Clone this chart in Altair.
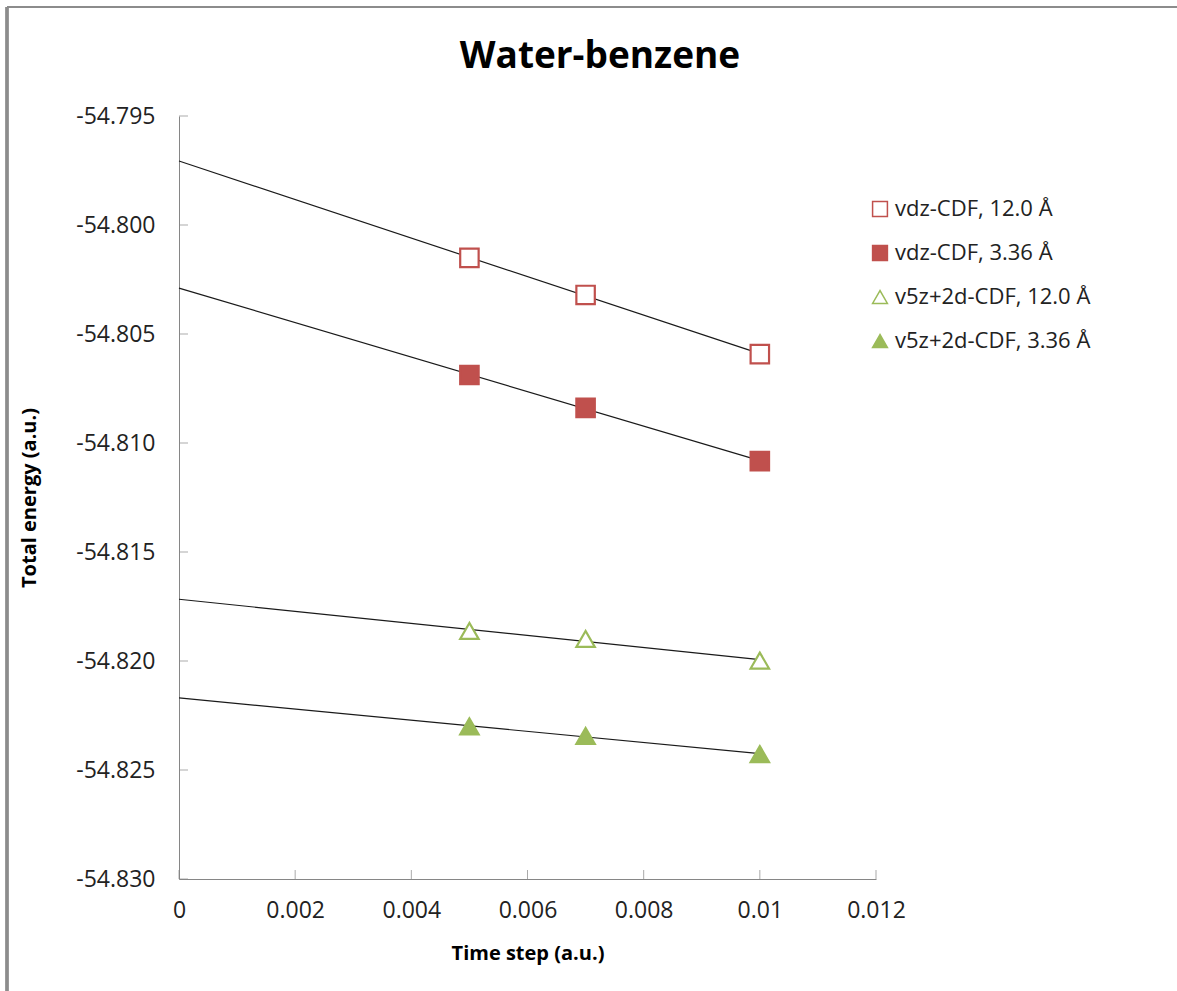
import altair as alt
import pandas as pd

# Time steps (a.u.) at which the total energy was computed
time_steps = [0.005, 0.007, 0.01]

# Total energies (a.u.) for each basis / cutoff combination
series_names = [
    "vdz-CDF, 12.0 Å",
    "vdz-CDF, 3.36 Å",
    "v5z+2d-CDF, 12.0 Å",
    "v5z+2d-CDF, 3.36 Å",
]
energy_vdz_12 = [-54.80151, -54.80321, -54.80592]
energy_vdz_336 = [-54.80688, -54.80839, -54.81083]
energy_v5z_12 = [-54.81862, -54.81899, -54.81998]
energy_v5z_336 = [-54.82300, -54.82344, -54.82427]

# Axis ticks
x_ticks = [0, 0.002, 0.004, 0.006, 0.008, 0.01, 0.012]
y_ticks = [-54.795, -54.800, -54.805, -54.810, -54.815, -54.820, -54.825, -54.830]

chart_title = "Water-benzene"

series_stroke = ["#C0504D", "#C0504D", "#9BBB59", "#9BBB59"]
series_fill = ["white", "#C0504D", "white", "#9BBB59"]
series_shape = ["square", "square", "triangle-up", "triangle-up"]

rows = []
for name, energies in zip(
    series_names, [energy_vdz_12, energy_vdz_336, energy_v5z_12, energy_v5z_336]
):
    for t, e in zip(time_steps, energies):
        rows.append({"series": name, "step": t, "energy": e})
df = pd.DataFrame(rows)

W, H = 697, 763
PAD_L, PAD_T = 179, 116
FULL_W, FULL_H = 1177, 991
FONT = "Open Sans"
AXIS_GREY = "#868686"

x_scale = alt.Scale(domain=[0, 0.012], nice=False, zero=False)
y_scale = alt.Scale(domain=[-54.830, -54.795], nice=False, zero=False)

base = alt.Chart(df)

trend = base.transform_regression(
    "step", "energy", groupby=["series"], extent=[0, 0.01]
).mark_line(color="#1a1a1a", strokeWidth=1.2).encode(
    x=alt.X("step:Q", scale=x_scale),
    y=alt.Y("energy:Q", scale=y_scale),
    detail="series:N",
)

legend = alt.Legend(
    title=None,
    orient="none",
    legendX=690,
    legendY=82,
    labelFont=FONT,
    labelFontSize=22,
    labelColor="#222222",
    labelLimit=0,
    symbolSize=220,
    symbolStrokeWidth=1.5,
    rowPadding=22,
    labelOffset=4,
)

points = base.mark_point(opacity=1, strokeWidth=2.2, size=340).encode(
    x=alt.X(
        "step:Q",
        scale=x_scale,
        axis=alt.Axis(
            values=x_ticks,
            format="~g",
            title="Time step (a.u.)",
            ticks=False,
            grid=False,
            labelFlush=False,
            labelPadding=20,
            titlePadding=21,
        ),
    ),
    y=alt.Y(
        "energy:Q",
        scale=y_scale,
        axis=alt.Axis(
            values=y_ticks,
            labelExpr="replace(format(datum.value, '.3f'), '\u2212', '-')",
            title="Total energy (a.u.)",
            ticks=False,
            grid=False,
            labelFlush=False,
            labelPadding=24,
            titlePadding=36,
        ),
    ),
    stroke=alt.Stroke(
        "series:N",
        scale=alt.Scale(domain=series_names, range=series_stroke),
        sort=series_names,
        legend=legend,
    ),
    fill=alt.Fill(
        "series:N",
        scale=alt.Scale(domain=series_names, range=series_fill),
        sort=series_names,
        legend=legend,
    ),
    shape=alt.Shape(
        "series:N",
        scale=alt.Scale(domain=series_names, range=series_shape),
        sort=series_names,
        legend=legend,
    ),
)

# Inward-pointing tick marks along both axes
xtick_df = pd.DataFrame({"step": x_ticks})
ytick_df = pd.DataFrame({"energy": y_ticks})
x_tick_marks = alt.Chart(xtick_df).mark_tick(
    color=AXIS_GREY, thickness=1, size=9
).encode(x=alt.X("step:Q", scale=x_scale), y=alt.value(H - 4.5))
y_tick_marks = alt.Chart(ytick_df).mark_tick(
    color=AXIS_GREY, thickness=1, size=9
).encode(y=alt.Y("energy:Q", scale=y_scale), x=alt.value(4.5))

# Outer chart frame (left and top edges)
frame_left = alt.Chart(xtick_df).mark_rule(color="#8c8c8c", strokeWidth=2.5).encode(
    x=alt.value(7 - PAD_L), y=alt.value(7 - PAD_T), y2=alt.value(FULL_H - PAD_T)
)
frame_top = alt.Chart(xtick_df).mark_rule(color="#8c8c8c", strokeWidth=2).encode(
    x=alt.value(7 - PAD_L), x2=alt.value(FULL_W - PAD_L), y=alt.value(7 - PAD_T)
)

# Chart heading, centred over the whole figure
title_mark = alt.Chart(pd.DataFrame({"t": [chart_title]})).mark_text(
    font=FONT, fontSize=37, fontWeight="bold", color="black",
    align="center", baseline="middle",
).encode(text="t:N", x=alt.value(600 - PAD_L), y=alt.value(57 - PAD_T))

chart = alt.layer(
    frame_left, frame_top, title_mark, x_tick_marks, y_tick_marks, trend, points
).properties(
    width=W,
    height=H,
    background="white",
    autosize=alt.AutoSizeParams(type="none"),
    padding={
        "left": PAD_L,
        "top": PAD_T,
        "right": FULL_W - PAD_L - W,
        "bottom": FULL_H - PAD_T - H,
    },
).configure_view(
    stroke=None
).configure_axis(
    domainColor=AXIS_GREY,
    domainWidth=1,
    labelFont=FONT,
    labelFontSize=23,
    labelColor="#222222",
    titleFont=FONT,
    titleFontSize=20,
    titleFontWeight="bold",
    titleColor="black",
)

chart.save("out.html", embed_options={"renderer": "svg", "actions": False})
